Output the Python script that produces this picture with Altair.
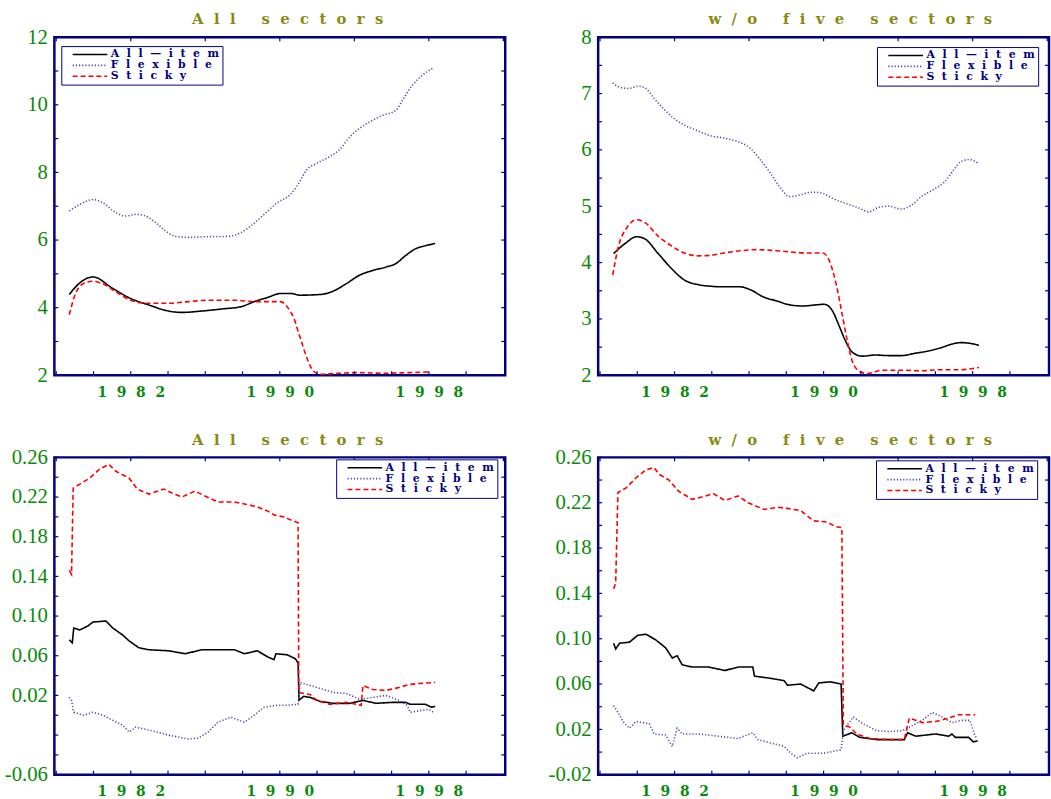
import altair as alt
import pandas as pd

NAMES = ["All-item", "Flexible", "Sticky"]
LEGEND_TEXT = ["All\u2014item", "Flexible", "Sticky"]
COLORS = ["#000000", "#4848b0", "#ff0000"]
DASHES = [[1, 0], [1.2, 2], [5, 3]]
NAVY = "#000080"
GREEN = "#0a8a0a"
OLIVE = "#8a8a10"

X_DOMAIN = [1977.9, 2002.1]
X_LABELS = [1982, 1990, 1998]
X_TICKS_TOP = [1978, 1982, 1986, 1990, 1994, 1998, 2002]
X_TICKS_BOTTOM = [1978, 1980, 1982, 1984, 1986, 1988, 1990, 1992, 1994, 1996, 1998, 2000]

# ---------- top-left: All sectors (levels) ----------
tl_all_x = [1978.7, 1979.3, 1979.97, 1981.03, 1982.0, 1982.97, 1984.03, 1984.74, 1985.8, 1986.86, 1987.92,
            1988.63, 1989.33, 1990.04, 1990.57, 1991.1, 1992.16, 1992.87, 1993.57, 1994.28, 1994.99,
            1995.69, 1996.22, 1996.75, 1997.28, 1997.81, 1998.34]
tl_all_y = [4.39, 4.75, 4.91, 4.57, 4.27, 4.08, 3.90, 3.86, 3.90, 3.96, 4.03,
            4.18, 4.30, 4.42, 4.42, 4.37, 4.39, 4.49, 4.71, 4.96, 5.10,
            5.20, 5.30, 5.54, 5.74, 5.83, 5.90]
tl_flex_x = [1978.7, 1979.26, 1979.97, 1980.5, 1981.2, 1981.73, 1982.27, 1982.8, 1983.33, 1983.86, 1984.39,
             1985.09, 1986.15, 1987.21, 1987.92, 1988.45, 1989.16, 1989.86, 1990.57, 1990.92, 1991.45,
             1991.98, 1992.69, 1993.22, 1993.75, 1994.28, 1994.81, 1995.52, 1996.22, 1996.58, 1997.1,
             1997.63, 1998.25]
tl_flex_y = [6.86, 7.05, 7.2, 7.1, 6.81, 6.71, 6.76, 6.71, 6.52, 6.27, 6.11,
             6.08, 6.1, 6.11, 6.22, 6.42, 6.76, 7.1, 7.35, 7.59, 8.08,
             8.27, 8.47, 8.68, 9.05, 9.3, 9.49, 9.69, 9.83, 10.13, 10.57,
             10.86, 11.1]
tl_sticky_x = [1978.7, 1979.0, 1979.44, 1979.97, 1980.5, 1981.2, 1982.0, 1982.8, 1984.03, 1985.09, 1986.15,
               1987.57, 1988.63, 1990.04, 1990.39, 1990.75, 1991.1, 1991.45, 1991.8, 1992.16, 1992.87,
               1994.28, 1995.52, 1996.93, 1998.08]
tl_sticky_y = [3.79, 4.37, 4.71, 4.78, 4.71, 4.47, 4.22, 4.13, 4.13, 4.18, 4.22,
               4.22, 4.18, 4.18, 4.03, 3.69, 3.1, 2.52, 2.13, 2.03, 2.05,
               2.08, 2.06, 2.08, 2.1]

# ---------- top-right: w/o five sectors (levels) ----------
tr_all_x = [1978.73, 1979.35, 1979.97, 1980.41, 1981.12, 1981.82, 1982.53, 1983.24, 1983.94, 1984.65, 1985.53,
            1986.06, 1986.77, 1987.48, 1988.18, 1988.89, 1989.6, 1990.04, 1990.48, 1990.83, 1991.19,
            1991.54, 1992.07, 1992.78, 1993.48, 1994.19, 1994.9, 1995.6, 1996.31, 1996.84, 1997.37,
            1997.81, 1998.34]
tr_all_y = [4.16, 4.34, 4.46, 4.42, 4.16, 3.9, 3.69, 3.61, 3.58, 3.57, 3.57,
            3.52, 3.39, 3.32, 3.25, 3.23, 3.25, 3.26, 3.14, 2.88, 2.6,
            2.41, 2.34, 2.36, 2.35, 2.35, 2.39, 2.43, 2.49, 2.55, 2.58,
            2.57, 2.53]
tr_flex_x = [1978.68, 1979.0, 1979.53, 1980.06, 1980.41, 1980.94, 1981.47, 1982.0, 1982.53, 1983.24, 1983.94,
             1984.65, 1985.36, 1986.06, 1986.59, 1987.12, 1987.65, 1988.18, 1988.71, 1989.42, 1989.95,
             1990.48, 1991.19, 1991.89, 1992.42, 1992.95, 1993.48, 1994.19, 1994.72, 1995.25, 1995.96,
             1996.49, 1997.02, 1997.37, 1997.81, 1998.34]
tr_flex_y = [7.19, 7.12, 7.09, 7.13, 7.1, 6.9, 6.71, 6.55, 6.44, 6.34, 6.25,
             6.21, 6.15, 6.03, 5.83, 5.6, 5.34, 5.17, 5.2, 5.25, 5.23,
             5.14, 5.05, 4.97, 4.9, 4.98, 5.0, 4.95, 5.02, 5.17, 5.31,
             5.43, 5.66, 5.79, 5.83, 5.75]
tr_sticky_x = [1978.68, 1979.0, 1979.44, 1979.97, 1980.41, 1981.12, 1981.82, 1982.53, 1983.24, 1983.94, 1984.65,
               1985.53, 1986.42, 1987.48, 1988.54, 1989.24, 1989.95, 1990.3, 1990.66, 1991.01, 1991.28,
               1991.54, 1991.89, 1992.34, 1993.13, 1994.19, 1995.25, 1996.31, 1997.37, 1998.34]
tr_sticky_y = [3.78, 4.3, 4.62, 4.76, 4.71, 4.47, 4.3, 4.17, 4.12, 4.13, 4.17,
               4.21, 4.23, 4.21, 4.18, 4.17, 4.17, 4.04, 3.64, 3.06, 2.6,
               2.25, 2.08, 2.03, 2.09, 2.09, 2.08, 2.1, 2.1, 2.14]

# ---------- bottom-left: All sectors (rates) ----------
bl_all_x = [1978.7, 1978.86, 1978.94, 1979.26, 1979.7, 1979.97, 1980.67, 1981.03, 1981.56, 1981.91, 1982.44,
            1982.97, 1984.03, 1984.92, 1985.8, 1986.68, 1987.57, 1988.1, 1988.8, 1989.33, 1989.69,
            1989.79, 1990.39, 1990.83, 1990.98, 1991.03, 1991.28, 1991.63, 1992.16, 1992.87, 1993.75,
            1994.46, 1995.16, 1996.04, 1996.75, 1997.0, 1997.81, 1998.16, 1998.34]
bl_all_y = [0.076, 0.073, 0.088, 0.086, 0.09, 0.094, 0.095, 0.088, 0.081, 0.075, 0.068,
            0.066, 0.065, 0.062, 0.066, 0.066, 0.066, 0.062, 0.065, 0.059, 0.056,
            0.062, 0.061, 0.057, 0.053, 0.015, 0.019, 0.018, 0.014, 0.012, 0.012,
            0.015, 0.012, 0.013, 0.013, 0.011, 0.011, 0.008, 0.009]
bl_flex_x = [1978.7, 1978.82, 1978.94, 1979.44, 1979.97, 1980.5, 1981.03, 1981.56, 1981.91, 1982.27, 1982.97,
             1984.03, 1985.09, 1985.62, 1986.15, 1986.68, 1987.39, 1988.1, 1988.63, 1989.16, 1989.86,
             1990.39, 1990.98, 1991.1, 1991.45, 1992.16, 1992.87, 1993.57, 1994.28, 1994.99, 1995.69,
             1996.4, 1996.84, 1997.0, 1997.63, 1997.99, 1998.25]
bl_flex_y = [0.018, 0.015, 0.003, 0.0, 0.003, 0.0, -0.005, -0.01, -0.017, -0.012, -0.015,
             -0.02, -0.024, -0.023, -0.017, -0.007, -0.002, -0.007, 0.0, 0.008, 0.01,
             0.01, 0.011, 0.033, 0.031, 0.027, 0.023, 0.022, 0.016, 0.018, 0.02,
             0.015, 0.01, 0.003, 0.005, 0.006, 0.003]
bl_sticky_x = [1978.7, 1978.82, 1978.91, 1979.26, 1979.79, 1980.32, 1980.82, 1981.2, 1981.91, 1982.35, 1982.97,
               1983.77, 1984.21, 1984.74, 1985.45, 1985.98, 1986.68, 1987.57, 1988.1, 1988.8, 1989.33,
               1989.69, 1990.22, 1990.57, 1990.98, 1991.02, 1991.28, 1991.63, 1991.98, 1992.69, 1993.57,
               1994.37, 1994.46, 1994.99, 1995.69, 1996.4, 1996.93, 1997.46, 1998.34]
bl_sticky_y = [0.146, 0.142, 0.229, 0.233, 0.239, 0.248, 0.253, 0.246, 0.239, 0.228, 0.223,
               0.228, 0.224, 0.22, 0.226, 0.221, 0.215, 0.215, 0.213, 0.21, 0.206,
               0.202, 0.2, 0.197, 0.194, 0.023, 0.022, 0.021, 0.015, 0.011, 0.013,
               0.01, 0.03, 0.026, 0.025, 0.028, 0.031, 0.032, 0.033]

# ---------- bottom-right: w/o five sectors (rates) ----------
br_all_x = [1978.73, 1978.84, 1979.05, 1979.58, 1980.02, 1980.46, 1980.99, 1981.52, 1981.88, 1982.14, 1982.41,
            1982.94, 1983.82, 1984.7, 1985.41, 1986.2, 1986.29, 1987.18, 1987.88, 1988.06, 1988.77,
            1989.47, 1989.74, 1990.36, 1990.94, 1991.03, 1991.51, 1991.95, 1992.83, 1993.54, 1994.33,
            1994.51, 1994.95, 1996.01, 1996.72, 1996.89, 1997.07, 1997.78, 1998.04, 1998.27]
br_all_y = [0.096, 0.091, 0.096, 0.097, 0.103, 0.104, 0.099, 0.092, 0.083, 0.085, 0.077,
            0.075, 0.075, 0.072, 0.075, 0.075, 0.067, 0.065, 0.063, 0.059, 0.06,
            0.054, 0.061, 0.062, 0.06, 0.014, 0.017, 0.013, 0.011, 0.011, 0.011,
            0.017, 0.014, 0.016, 0.014, 0.016, 0.013, 0.013, 0.009, 0.01]
br_flex_x = [1978.73, 1978.96, 1979.23, 1979.58, 1979.93, 1980.64, 1980.9, 1981.52, 1981.88, 1982.14, 1982.41,
             1983.29, 1984.35, 1985.41, 1986.2, 1986.47, 1987.18, 1987.88, 1988.24, 1988.59, 1989.12,
             1990.0, 1990.94, 1991.06, 1991.59, 1992.12, 1992.83, 1993.54, 1994.24, 1994.95, 1995.3,
             1995.83, 1996.36, 1996.89, 1997.42, 1997.86, 1998.13, 1998.27]
br_flex_y = [0.041, 0.035, 0.027, 0.021, 0.027, 0.025, 0.016, 0.015, 0.005, 0.021, 0.016,
             0.016, 0.014, 0.012, 0.017, 0.011, 0.008, 0.005, -0.001, -0.005, -0.001,
             -0.001, 0.002, 0.019, 0.031, 0.025, 0.019, 0.018, 0.019, 0.025, 0.028,
             0.035, 0.031, 0.026, 0.028, 0.028, 0.014, 0.012]
br_sticky_x = [1978.73, 1978.84, 1978.96, 1979.4, 1979.93, 1980.46, 1980.9, 1981.17, 1981.7, 1982.23, 1982.94,
               1983.47, 1984.08, 1984.7, 1985.41, 1985.94, 1986.82, 1987.53, 1988.06, 1988.77, 1989.47,
               1990.18, 1990.62, 1990.98, 1991.06, 1991.42, 1991.77, 1992.48, 1993.54, 1994.33, 1994.6,
               1995.3, 1996.01, 1996.72, 1997.25, 1998.13]
br_sticky_y = [0.144, 0.149, 0.229, 0.233, 0.242, 0.249, 0.251, 0.245, 0.24, 0.23, 0.223,
               0.225, 0.228, 0.222, 0.226, 0.22, 0.214, 0.216, 0.215, 0.213, 0.204,
               0.203, 0.199, 0.198, 0.024, 0.022, 0.016, 0.012, 0.011, 0.011, 0.03,
               0.026, 0.027, 0.03, 0.033, 0.033]

# axis tick / label values
tl_yticks = [2, 3, 4, 5, 6, 7, 8, 9, 10, 11, 12]
tl_ylabels = [2, 4, 6, 8, 10, 12]
tr_yticks = [2, 2.5, 3, 3.5, 4, 4.5, 5, 5.5, 6, 6.5, 7, 7.5, 8]
tr_ylabels = [2, 3, 4, 5, 6, 7, 8]
bl_yticks = [-0.06, -0.04, -0.02, 0.0, 0.02, 0.04, 0.06, 0.08, 0.10, 0.12, 0.14, 0.16, 0.18, 0.20, 0.22, 0.24, 0.26]
bl_ylabels = [-0.06, 0.02, 0.06, 0.10, 0.14, 0.18, 0.22, 0.26]
br_yticks = [-0.02, 0.0, 0.02, 0.04, 0.06, 0.08, 0.10, 0.12, 0.14, 0.16, 0.18, 0.20, 0.22, 0.24, 0.26]
br_ylabels = [-0.02, 0.02, 0.06, 0.10, 0.14, 0.18, 0.22, 0.26]

SEP = "\u2002\u2009"
LEGEND_SEP = "\u2002\u2009"
SERIF = "DejaVu Serif"


def spaced(s, sep=SEP):
    return sep.join(s.replace(" ", "\u00a0"))


def ternary(pairs, key):
    expr = "''"
    for k, v in reversed(pairs):
        expr = f"{key} == {k} ? '{v}' : ({expr})"
    return expr


X_LABEL_EXPR = ternary([(y, spaced(str(y))) for y in X_LABELS], "datum.value")
LEGEND_EXPR = ternary([(f"'{n}'", spaced(t, LEGEND_SEP)) for n, t in zip(NAMES, LEGEND_TEXT)], "datum.label")
INT_EXPR = "format(datum.value, 'd')"
DEC_EXPR = "replace(format(datum.value, '.2f'), '\u2212', '-')"


def legend(lx, ly):
    return alt.Legend(
        orient="none", legendX=lx, legendY=ly, title=None,
        symbolType="M0,0H8.75", symbolSize=64, symbolStrokeWidth=1.6, symbolOffset=3,
        labelFont=SERIF, labelFontSize=11, labelFontWeight="bold",
        labelColor=NAVY, labelExpr=LEGEND_EXPR, labelOffset=33, labelLimit=400,
        rowPadding=-1.5, padding=3, strokeColor=NAVY, fillColor="white",
    )


def panel(series, ydom, yticks, ylabels, yexpr, title, w, h, lx, ly, tdx, interp):
    rows = []
    for name, (xs, ys) in zip(NAMES, series):
        assert len(xs) == len(ys), (title, name, len(xs), len(ys))
        rows += [{"year": x, "value": y, "series": name} for x, y in zip(xs, ys)]
    df = pd.DataFrame(rows)
    xs_ = alt.Scale(domain=X_DOMAIN, nice=False, zero=False)
    ys_ = alt.Scale(domain=ydom, nice=False, zero=False)
    xaxis = alt.Axis(
        values=X_LABELS, labelExpr=X_LABEL_EXPR, ticks=False, tickSize=0, domain=False,
        grid=False, title=None, labelPadding=10, labelFont=SERIF, labelFontSize=14,
        labelFontWeight="bold", labelColor=GREEN, labelFlush=False, labelOverlap=False)
    yaxis = alt.Axis(
        values=ylabels, labelExpr=yexpr, ticks=False, tickSize=0, domain=False, grid=False,
        title=None, labelPadding=7, labelFont="Liberation Sans Narrow",
        labelFontSize=21, labelColor=GREEN, labelFlush=False, labelOverlap=False)
    lines = alt.Chart(df).mark_line(strokeWidth=1.6, interpolate=interp).encode(
        x=alt.X("year:Q", scale=xs_, axis=xaxis),
        y=alt.Y("value:Q", scale=ys_, axis=yaxis),
        color=alt.Color("series:N", scale=alt.Scale(domain=NAMES, range=COLORS), legend=legend(lx, ly)),
        strokeDash=alt.StrokeDash("series:N", scale=alt.Scale(domain=NAMES, range=DASHES), legend=legend(lx, ly)),
    )
    ydf = pd.DataFrame({"value": yticks})
    xt = pd.DataFrame({"year": X_TICKS_TOP})
    xb = pd.DataFrame({"year": X_TICKS_BOTTOM})
    tick = dict(color=NAVY, strokeWidth=1.2)
    ytl = alt.Chart(ydf).mark_rule(**tick).encode(
        y=alt.Y("value:Q", scale=ys_, axis=yaxis), x=alt.value(0), x2=alt.value(4))
    ytr = alt.Chart(ydf).mark_rule(**tick).encode(
        y=alt.Y("value:Q", scale=ys_, axis=yaxis), x=alt.value(w - 4), x2=alt.value(w))
    xtt = alt.Chart(xt).mark_rule(**tick).encode(
        x=alt.X("year:Q", scale=xs_, axis=xaxis), y=alt.value(0), y2=alt.value(4))
    xtb = alt.Chart(xb).mark_rule(**tick).encode(
        x=alt.X("year:Q", scale=xs_, axis=xaxis), y=alt.value(h - 4), y2=alt.value(h))
    return alt.layer(lines, ytl, ytr, xtt, xtb).properties(
        width=w, height=h,
        title=alt.TitleParams(text=spaced(title), font=SERIF, fontSize=15,
                              fontWeight="bold", color=OLIVE, offset=-1, dx=tdx, anchor="middle"),
    )


tl = panel([(tl_all_x, tl_all_y), (tl_flex_x, tl_flex_y), (tl_sticky_x, tl_sticky_y)],
           [2, 12], tl_yticks, tl_ylabels, INT_EXPR, "All sectors", 456, 342, 7, 9, 8, "monotone")
tr = panel([(tr_all_x, tr_all_y), (tr_flex_x, tr_flex_y), (tr_sticky_x, tr_sticky_y)],
           [2, 8], tr_yticks, tr_ylabels, INT_EXPR, "w/o five sectors", 456, 342, 282, 10, 27, "monotone")
bl = panel([(bl_all_x, bl_all_y), (bl_flex_x, bl_flex_y), (bl_sticky_x, bl_sticky_y)],
           [-0.06, 0.26], bl_yticks, bl_ylabels, DEC_EXPR, "All sectors", 456, 321, 285, 2, 8, "linear")
br = panel([(br_all_x, br_all_y), (br_flex_x, br_flex_y), (br_sticky_x, br_sticky_y)],
           [-0.02, 0.26], br_yticks, br_ylabels, DEC_EXPR, "w/o five sectors", 456, 321, 281, 3, 27, "linear")

chart = alt.concat(tl, tr, bl, br, columns=2, spacing={"row": 30, "column": 40}).resolve_scale(
    x="independent", y="independent", color="independent", strokeDash="independent"
).resolve_legend(color="independent", strokeDash="independent").configure_view(
    stroke=NAVY, strokeWidth=2.5
).properties(
    padding={"left": 3, "top": 6, "right": 0, "bottom": 0}, background="white"
)

chart.save("out.html", embed_options={"renderer": "svg", "actions": False})
